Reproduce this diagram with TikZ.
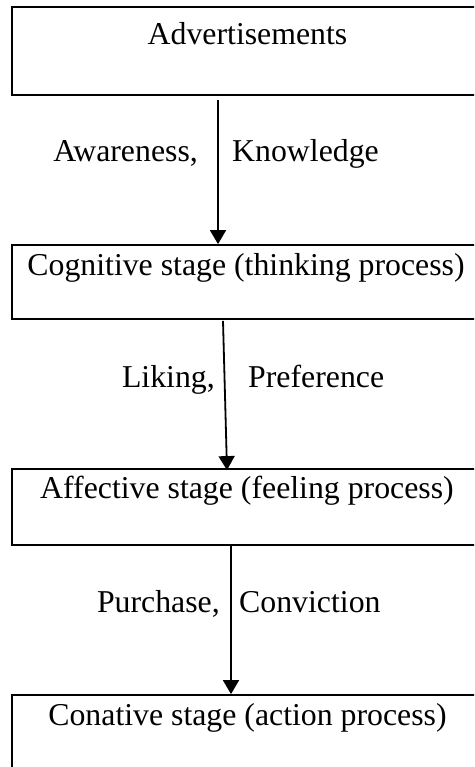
\documentclass[tikz,border=0pt]{standalone}
\usepackage{fontspec}
\setmainfont{Liberation Serif}
\usetikzlibrary{arrows.meta}
\begin{document}
\begin{tikzpicture}[x=1pt,y=-1pt,
  box/.style={draw=black,line width=1.8pt,rectangle,minimum width=478pt,inner sep=0pt},
  lbl/.style={anchor=base,inner sep=0pt,font=\fontsize{31.8}{38}\selectfont},
  arr/.style={line width=1.8pt,-{Triangle[width=16pt,length=14pt]}}]
\useasboundingbox (0,0) rectangle (474,767);
\clip (0,0) rectangle (474,767);
\node[box,minimum height=88pt] (b1) at (251,51) {};
\node[box,minimum height=74pt] (b2) at (251,282) {};
\node[box,minimum height=76pt] (b3) at (251,507) {};
\node[box,minimum height=90pt] (b4) at (251,740) {};
\node[lbl] (t1) at (247.5,45) {Advertisements};
\node[lbl] (t2) at (246,275) {Cognitive stage (thinking process)};
\node[lbl] (t3) at (247,498) {Affective stage (feeling process)};
\node[lbl] (t4) at (247.5,725) {Conative stage (action process)};
\node[lbl,anchor=base east] (l1a) at (198,162) {Awareness,};
\node[lbl,anchor=base west] (l1b) at (232,162) {Knowledge};
\node[lbl,anchor=base east] (l2a) at (215,387) {Liking,};
\node[lbl,anchor=base west] (l2b) at (248,387) {Preference};
\node[lbl,anchor=base east] (l3a) at (220,612) {Purchase,};
\node[lbl,anchor=base west] (l3b) at (239,612) {Conviction};
\coordinate (a1s) at ([xshift=-33pt,yshift=-4pt]b1.south);
\coordinate (a1e) at ([xshift=-33pt]b2.north);
\coordinate (a2s) at ([xshift=-28pt,yshift=-1pt]b2.south);
\coordinate (a2e) at ([xshift=-24pt,yshift=-2pt]b3.north);
\coordinate (a3s) at ([xshift=-20pt,yshift=2pt]b3.south);
\coordinate (a3e) at ([xshift=-20pt]b4.north);
\draw[arr] (a1s) -- (a1e);
\draw[arr] (a2s) -- (a2e);
\draw[arr] (a3s) -- (a3e);
\end{tikzpicture}
\end{document}
